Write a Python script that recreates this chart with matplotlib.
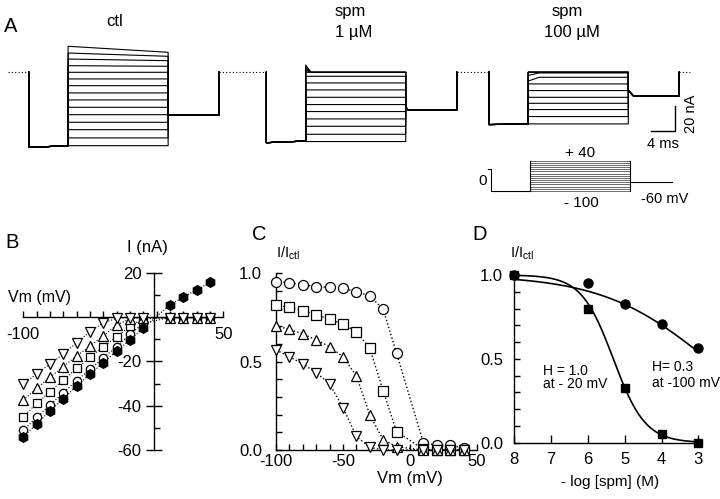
import numpy as np
import matplotlib
matplotlib.use('Agg')
import matplotlib.pyplot as plt

plt.rcParams['font.family'] = ['Liberation Sans', 'DejaVu Sans']
plt.rcParams['mathtext.fontset'] = 'custom'
plt.rcParams['mathtext.rm'] = 'Liberation Sans'
plt.rcParams['mathtext.it'] = 'Liberation Sans:italic'
plt.rcParams['axes.unicode_minus'] = False

W, H = 720, 499

# ---------------- A: current traces (nA), sweeps -100 ... +40 mV ----------------
step_mv = [-100, -90, -80, -70, -60, -50, -40, -30, -20, -10, 0, 10, 20, 30, 40]
pre_ms, step_ms, tail_ms = 6.55, 16.67, 8.5
trace_onset_ms = [4.8, 44.4, 81.5]          # ctl, spm 1 uM, spm 100 uM

ctl_pre = [-60.1, -58.7]
ctl_onset = [-58.7, -52.5, -45.9, -40.0, -33.9, -28.0, -22.1, -16.5, -10.7, -5.3, 0.0, 5.3, 10.6, 15.4, 20.8]
ctl_start = ctl_onset
ctl_end = [-58.7, -52.5, -45.9, -40.0, -33.9, -28.0, -22.1, -16.5, -10.7, -5.3, 0.0, 4.8, 9.3, 12.8, 16.0]
ctl_tail = [-34.1, -34.1]                    # tail at -60 mV: just after step, steady

spm1_pre = [-56.3, -55.0]
spm1_onset = [-55.4, -49.6, -43.2, -37.3, -31.4, -25.8, -20.0, -14.1, -8.5, -3.2, 0.0, 1.5, 3.0, 4.5, 5.8]
spm1_start = [-55.4, -49.6, -43.2, -37.3, -31.4, -25.8, -20.0, -14.1, -8.5, -3.2, 0.0, 0.0, 0.0, 0.0, 0.0]
spm1_end = spm1_start
spm1_tail = [-27.5, -30.2]

spm100_pre = [-41.8, -41.4]
spm100_onset = [-41.3, -35.4, -29.8, -24.8, -20.0, -14.6, -9.3, -7.0, -2.5, 0.0, 0.0, 0.0, 0.0, 0.0, 0.0]
spm100_start = [-41.3, -35.4, -29.8, -24.8, -20.0, -14.6, -9.3, -4.0, -0.5, 0.0, 0.0, 0.0, 0.0, 0.0, 0.0]
spm100_end = spm100_start
spm100_tail = [-14.5, -18.7]

# protocol inset (mV)
proto_hold_mv = 0
proto_pre_mv = -100
proto_tail_mv = -60
proto_tail_ms = 7.0

# ---------------- B: I-V (nA) ----------------
iv_mv = [-100, -90, -80, -70, -60, -50, -40, -30, -20, -10, 10, 20, 30, 40]
iv_ctl = [-54.0, -48.3, -42.3, -37.0, -31.1, -25.9, -20.6, -15.3, -10.4, -5.0, 5.5, 9.0, 12.3, 15.6]
iv_1um = [-51.0, -45.3, -39.7, -34.1, -28.7, -23.6, -18.4, -13.4, -7.8, -2.8, -0.2, -0.2, -0.2, -0.2]
iv_10um = [-45.0, -39.0, -33.7, -28.4, -23.2, -18.2, -13.4, -8.9, -4.1, -0.8, -0.3, -0.3, -0.3, -0.3]
iv_100um = [-37.5, -32.2, -27.2, -22.4, -17.6, -13.1, -8.6, -3.6, -0.8, -0.3, -0.3, -0.3, -0.3, -0.3]
iv_1mm = [-30.2, -25.7, -21.2, -16.7, -11.6, -6.6, -2.6, -0.6, -0.3, -0.3, -0.3, -0.3, -0.3, -0.3]

# ---------------- C: I/Ictl vs Vm ----------------
rel_1um = [0.953, 0.947, 0.934, 0.925, 0.920, 0.915, 0.896, 0.872, 0.796, 0.547, 0.041, 0.028, 0.028, 0.01]
rel_10um = [0.820, 0.808, 0.789, 0.764, 0.742, 0.711, 0.670, 0.575, 0.334, 0.104, 0.004, 0.0, 0.0, 0.0]
rel_100um = [0.702, 0.683, 0.657, 0.623, 0.585, 0.528, 0.419, 0.198, 0.058, 0.019, 0.0, 0.0, 0.0, 0.0]
rel_1mm = [0.566, 0.528, 0.487, 0.438, 0.374, 0.240, 0.077, 0.015, 0.0, 0.0, 0.0, 0.0, 0.0, 0.0]

# ---------------- D: dose response ----------------
pspm = [8, 6, 5, 4, 3]
dr_m100 = [1.0, 0.954, 0.825, 0.706, 0.563]
dr_m20 = [1.0, 0.795, 0.328, 0.05, 0.0]
fit_m100 = dict(pk=2.76, h=0.3)
fit_m20 = dict(pk=5.31, h=1.0)


fig = plt.figure(figsize=(7.2, 4.99), dpi=100)


def px_axes(x0, x1, ytop, ybot):
    return fig.add_axes([x0 / W, 1 - ybot / H, (x1 - x0) / W, (ybot - ytop) / H])


def ftext(x, y, s, **kw):
    kw.setdefault('va', 'baseline')
    fig.text(x / W, 1 - y / H, s, **kw)


# ---- panel A ----
a_base, a_px_ms, a_px_na = 72.3, 6.0, 1.25
axA = px_axes(0, 720, 0, 200)
axA.set_xlim(0, 720 / a_px_ms)
axA.set_ylim((a_base - 200) / a_px_na, a_base / a_px_na)
axA.axis('off')

conds = [
    (ctl_pre, ctl_onset, ctl_start, ctl_end, ctl_tail, 0.1, 0.1),
    (spm1_pre, spm1_onset, spm1_start, spm1_end, spm1_tail, 0.9, 0.35),
    (spm100_pre, spm100_onset, spm100_start, spm100_end, spm100_tail, 1.8, 0.8),
]
for t_on, (pre, ons, st, en, tail, settle, lag) in zip(trace_onset_ms, conds):
    t1 = t_on + pre_ms
    t2 = t1 + step_ms
    t3 = t2 + tail_ms
    for k in range(len(step_mv)):
        tt = [t_on, t_on, t1, t1, t1 + settle, t2, t2, t2 + lag, t3, t3]
        ii = [0, pre[0], pre[1], ons[k], st[k], en[k], tail[0], tail[1], tail[1], 0]
        axA.plot(tt, ii, color='black', lw=0.8)

# dotted holding level between traces
total = pre_ms + step_ms + tail_ms
hold_t = [1.3] + [x for t in trace_onset_ms for x in (t, t + total)] + [115.0]
for k in range(0, len(hold_t), 2):
    axA.plot(hold_t[k:k + 2], [0, 0], color='black', lw=0.8, ls=(0, (1, 2)))

# scale bar 20 nA / 4 ms
sb_t, sb_i = 112.5, -46.7
axA.plot([sb_t - 4, sb_t, sb_t], [sb_i, sb_i, sb_i + 20], color='black', lw=1.0)
ftext(663, 148.3, '4 ms', ha='center', fontsize=10.5)
ftext(690.8, 113.7, '20 nA', ha='center', va='center', rotation=90, fontsize=10.5)

# protocol inset
axP = px_axes(470, 700, 150, 210)
axP.set_xlim((470 - 491) / 6.0, (700 - 491) / 6.0)
axP.set_ylim((169.3 - 210) / 0.217, (169.3 - 150) / 0.217)
axP.axis('off')
axP.plot([-0.5, 0, 0, pre_ms], [proto_hold_mv, proto_hold_mv, proto_pre_mv, proto_pre_mv], color='black', lw=0.8)
for v in step_mv:
    axP.plot([pre_ms, pre_ms + step_ms], [v, v], color='#555555', lw=0.6)
axP.plot([pre_ms, pre_ms], [min(step_mv), max(step_mv)], color='black', lw=0.8)
axP.plot([pre_ms + step_ms, pre_ms + step_ms], [min(step_mv), max(step_mv)], color='black', lw=0.8)
axP.plot([pre_ms + step_ms, pre_ms + step_ms + proto_tail_ms], [proto_tail_mv, proto_tail_mv], color='black', lw=0.8)
ftext(580, 156.7, '+ 40', ha='center', fontsize=11)
ftext(581, 206.7, '- 100', ha='center', fontsize=11)
ftext(482.5, 185, '0', ha='center', fontsize=11)
ftext(640.7, 203.3, '-60 mV', ha='left', fontsize=10.5)

ftext(4, 32, 'A', fontsize=14.5)
ftext(114.5, 26, 'ctl', ha='center', fontsize=12)
ftext(335, 16, 'spm', ha='left', fontsize=12)
ftext(335, 36.5, '1 \u00b5M', ha='left', fontsize=12)
ftext(567.5, 16, 'spm', ha='center', fontsize=12)
ftext(572, 36.5, '100 \u00b5M', ha='center', fontsize=12)


def style_axes(ax):
    for s in ('top', 'right'):
        ax.spines[s].set_visible(False)
    for s in ('left', 'bottom'):
        ax.spines[s].set_linewidth(1.0)


# ---- panel B ----
axB = px_axes(23.3, 223.3, 272.7, 450)
axB.set_xlim(-100, 50)
axB.set_ylim(-60, 20)
style_axes(axB)
axB.spines['left'].set_position(('data', -2))
axB.spines['bottom'].set_position(('data', 0))
axB.set_xticks([-100, 50])
axB.set_xticklabels(['-100', '50'])
axB.set_xticks(list(range(-90, 50, 10)), minor=True)
axB.tick_params(axis='x', which='both', direction='in', length=4, width=1.0, labelsize=12, pad=7)
axB.set_yticks([-60, -40, -20, 20])
axB.set_yticklabels(['-60', '-40', '-20', '20'])
axB.set_yticks([-50, -30, -10, 10], minor=True)
axB.tick_params(axis='y', which='major', direction='inout', length=11, width=1.0, labelsize=12, pad=3.5)
axB.tick_params(axis='y', which='minor', direction='in', length=4, width=1.0)
b_series = [(iv_1um, 'o', 'white', 6), (iv_10um, 's', 'white', 5.5), (iv_100um, '^', 'white', 6.5),
            (iv_1mm, 'v', 'white', 6.5), (iv_ctl, 'h', 'black', 7)]
for z, (vals, m, fc, ms) in enumerate(b_series):
    axB.plot(iv_mv, vals, ls=':', lw=0.8, color='black', marker=m, mfc=fc, mec='black',
             mew=0.9, ms=ms, clip_on=False, zorder=3 + z)
ftext(5, 248, 'B', fontsize=14.5)
ftext(8.3, 301.7, 'Vm (mV)', ha='left', fontsize=11.5)
ftext(126.7, 251.7, 'I (nA)', ha='left', fontsize=12)

# ---- panel C ----
axC = px_axes(276, 477, 273.3, 450)
axC.set_xlim(-100, 50)
axC.set_ylim(0, 1)
style_axes(axC)
axC.set_xticks([-100, -50, 0, 50])
axC.set_xticklabels(['-100', '-50', '0', '50'])
axC.set_xticks(list(range(-90, 50, 10)), minor=True)
axC.set_yticks([0, 0.5, 1.0])
axC.set_yticklabels(['0.0', '0.5', '1.0'])
axC.set_yticks([0.1, 0.2, 0.3, 0.4, 0.6, 0.7, 0.8, 0.9], minor=True)
axC.tick_params(axis='both', which='both', direction='in', length=4, width=1.0, labelsize=12)
axC.tick_params(axis='x', which='major', pad=3)
axC.tick_params(axis='y', which='major', pad=10)
c_series = [(rel_1um, 'o', 7.2), (rel_10um, 's', 6.5), (rel_100um, '^', 7.2), (rel_1mm, 'v', 7.2)]
for z, (vals, m, ms) in enumerate(c_series):
    axC.plot(iv_mv, vals, ls=':', lw=1.0, color='black', marker=m, mfc='white', mec='black',
             mew=0.9, ms=ms, clip_on=False, zorder=3 + z)
ftext(251.7, 240, 'C', fontsize=14.5)
ftext(276, 258, r'I/I$_{\rm ctl}$', ha='left', fontsize=10.5)
ftext(410, 483, 'Vm (mV)', ha='center', fontsize=12)

# ---- panel D ----
axD = px_axes(514.3, 698.3, 275, 442.7)
axD.set_xlim(8, 3)
axD.set_ylim(0, 1)
style_axes(axD)
axD.set_xticks([8, 7, 6, 5, 4, 3])
axD.set_yticks([0, 0.5, 1.0])
axD.set_yticklabels(['0.0', '0.5', '1.0'])
axD.set_yticks([0.1, 0.2, 0.3, 0.4, 0.6, 0.7, 0.8, 0.9], minor=True)
axD.tick_params(axis='x', which='major', direction='in', length=6, width=1.0, labelsize=12, pad=6.5)
axD.tick_params(axis='y', which='both', direction='in', length=4, width=1.0, labelsize=12, pad=8)
xs = np.linspace(8, 3, 200)
for fit in (fit_m100, fit_m20):
    axD.plot(xs, 1 / (1 + 10 ** (fit['h'] * (fit['pk'] - xs))), color='black', lw=1.2, clip_on=False)
axD.plot(pspm, dr_m100, ls='none', marker='o', color='black', ms=6.5, clip_on=False, zorder=4)
axD.plot(pspm, dr_m20, ls='none', marker='s', color='black', ms=6, clip_on=False, zorder=4)
ftext(472, 240, 'D', fontsize=14.5)
ftext(510, 258, r'I/I$_{\rm ctl}$', ha='left', fontsize=10.5)
ftext(610, 486, '- log [spm] (M)', ha='center', fontsize=11)
ftext(543.3, 375, 'H = 1.0', ha='left', fontsize=10)
ftext(543.3, 388.3, 'at - 20 mV', ha='left', fontsize=10)
ftext(651.7, 370.7, 'H= 0.3', ha='left', fontsize=10)
ftext(651.7, 386.7, 'at -100 mV', ha='left', fontsize=10)

fig.savefig('out.png', dpi=100)
